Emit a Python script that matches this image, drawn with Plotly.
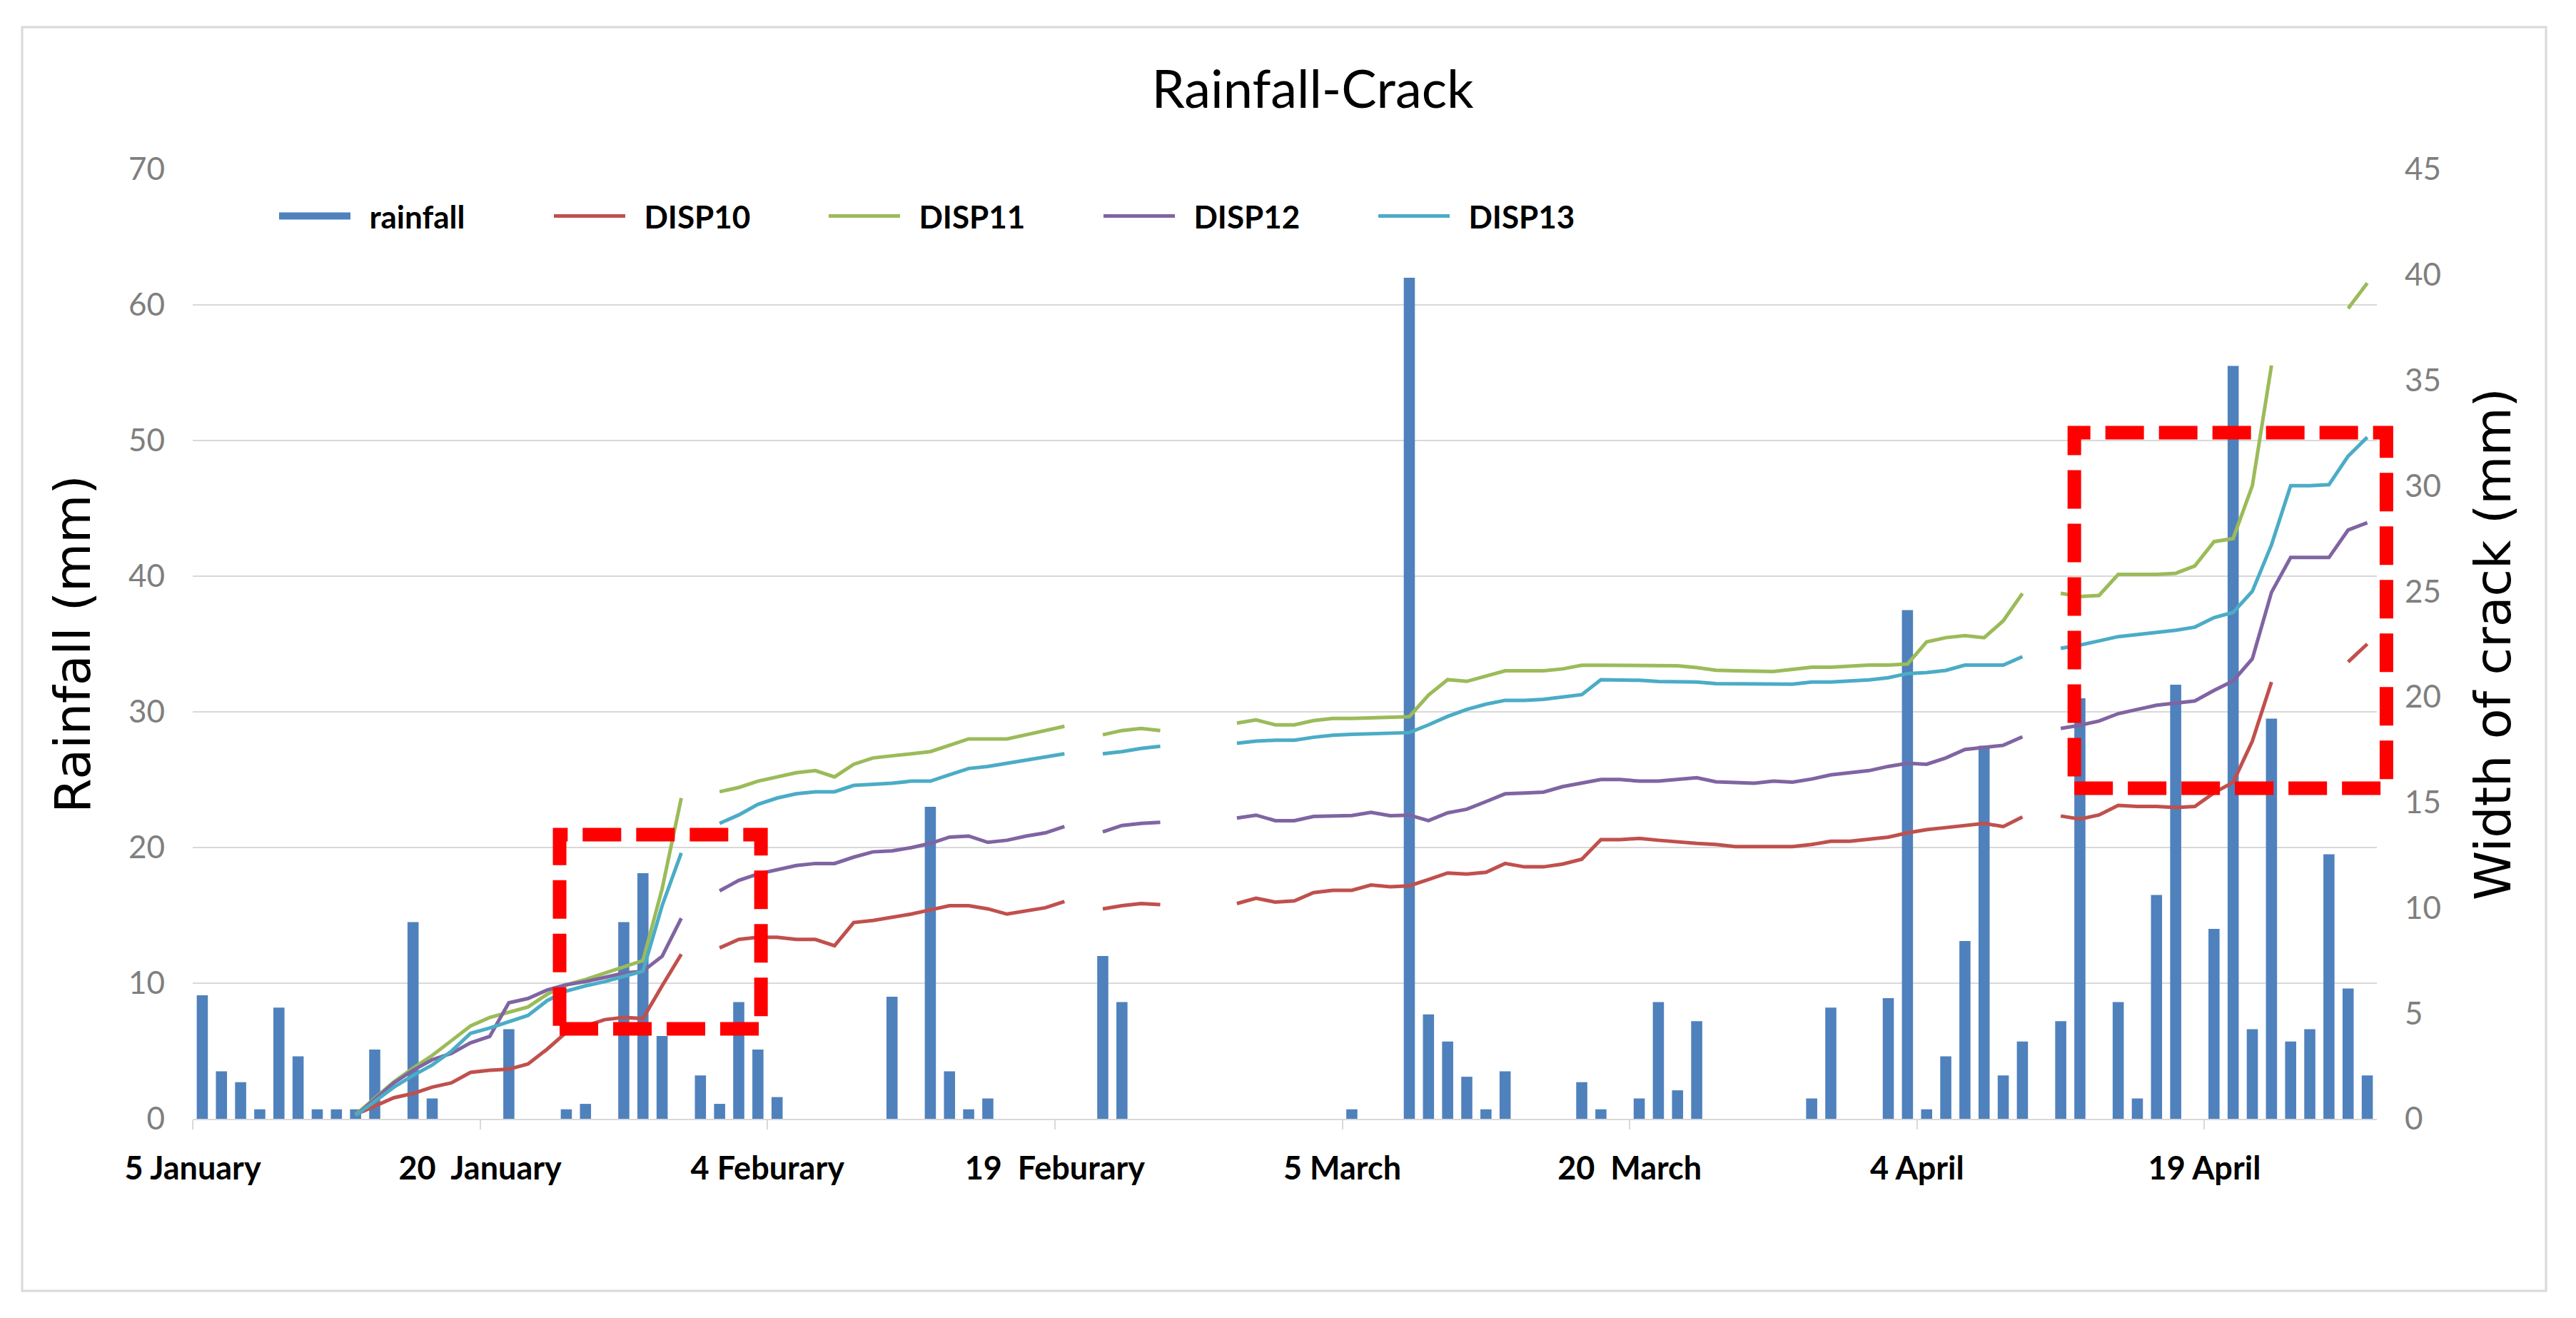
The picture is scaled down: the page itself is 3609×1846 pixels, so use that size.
import pandas as pd
import plotly.graph_objects as go

N = None

# ---------------- data ----------------
start_date = "2016-01-05"
n_days = 114
days = pd.date_range(start_date, periods=n_days, freq="D")

tick_dates = ["2016-01-05", "2016-01-20", "2016-02-04", "2016-02-19",
              "2016-03-05", "2016-03-20", "2016-04-04", "2016-04-19"]
tick_labels = ["5 January", "20\u00a0 January", "4 Feburary", "19\u00a0 Feburary",
               "5 March", "20\u00a0 March", "4 April", "19 April"]

rainfall = [
    9.1, 3.5, 2.7, 0.7, 8.2, 4.6, 0.7, 0.7, 0.7, 5.1,
    0, 14.5, 1.5, 0, 0, 0, 6.6, 0, 0, 0.7,
    1.1, 0, 14.5, 18.1, 6.1, 0, 3.2, 1.1, 8.6, 5.1,
    1.6, 0, 0, 0, 0, 0, 9.0, 0, 23.0, 3.5,
    0.7, 1.5, 0, 0, 0, 0, 0, 12.0, 8.6, 0,
    0, 0, 0, 0, 0, 0, 0, 0, 0, 0,
    0.7, 0, 0, 62.0, 7.7, 5.7, 3.1, 0.7, 3.5, 0,
    0, 0, 2.7, 0.7, 0, 1.5, 8.6, 2.1, 7.2, 0,
    0, 0, 0, 0, 1.5, 8.2, 0, 0, 8.9, 37.5,
    0.7, 4.6, 13.1, 27.5, 3.2, 5.7, 0, 7.2, 31.0, 0,
    8.6, 1.5, 16.5, 32.0, 0, 14.0, 55.5, 6.6, 29.5, 5.7,
    6.6, 19.5, 9.6, 3.2,
]

disp10 = [
    N, N, N, N, N, N, N, N, 0.2, 0.6,
    1.0, 1.2, 1.5, 1.7, 2.2, 2.3, 2.35, 2.6, 3.3, 4.1,
    4.4, 4.7, 4.8, 4.75, 6.3, 7.8, N, 8.1, 8.5, 8.6,
    8.6, 8.5, 8.5, 8.2, 9.3, 9.4, 9.55, 9.7, 9.9, 10.1,
    10.1, 9.95, 9.7, 9.85, 10.0, 10.3, N, 9.95, 10.1, 10.2,
    10.15, N, N, N, 10.2, 10.45, 10.27, 10.33, 10.72, 10.83,
    10.83, 11.08, 11.0, 11.04, 11.34, 11.65, 11.6, 11.68, 12.1, 11.94,
    11.94, 12.07, 12.3, 13.23, 13.23, 13.29, 13.2, 13.11, 13.05, 13.0,
    12.9, 12.9, 12.9, 12.9, 13.0, 13.15, 13.15, 13.25, 13.35, 13.55,
    13.7, 13.8, 13.9, 14.0, 13.85, 14.3, N, 14.35, 14.2, 14.4,
    14.85, 14.8, 14.8, 14.75, 14.8, 15.45, 15.95, 17.9, 20.7, N,
    N, N, 21.65, 22.5,
]

disp11 = [
    N, N, N, N, N, N, N, N, 0.2, 1.0,
    1.75, 2.4, 3.0, 3.7, 4.4, 4.8, 5.05, 5.3, 5.9, 6.35,
    6.6, 6.9, 7.2, 7.5, 10.9, 15.2, N, 15.5, 15.7, 16.0,
    16.2, 16.4, 16.5, 16.2, 16.8, 17.1, 17.2, 17.3, 17.4, 17.7,
    18.0, 18.0, 18.0, 18.2, 18.4, 18.6, N, 18.2, 18.4, 18.5,
    18.4, N, N, N, 18.75, 18.9, 18.67, 18.67, 18.87, 18.97,
    18.97, 19.0, 19.03, 19.06, 20.08, 20.81, 20.73, 20.98, 21.23, 21.23,
    21.23, 21.32, 21.49, 21.49, 21.49, 21.49, 21.49, 21.47, 21.38, 21.26,
    21.23, 21.2, 21.2, 21.3, 21.4, 21.4, 21.45, 21.5, 21.5, 21.55,
    22.6, 22.8, 22.9, 22.8, 23.6, 24.9, N, 24.9, 24.75, 24.8,
    25.8, 25.8, 25.8, 25.85, 26.2, 27.35, 27.5, 30.0, 35.7, N,
    N, N, 38.4, 39.6,
]

disp12 = [
    N, N, N, N, N, N, N, N, 0.15, 0.95,
    1.7, 2.3, 2.8, 3.1, 3.6, 3.9, 5.5, 5.7, 6.1, 6.35,
    6.5, 6.7, 6.9, 7.0, 7.7, 9.5, N, 10.8, 11.3, 11.6,
    11.8, 12.0, 12.1, 12.1, 12.4, 12.65, 12.7, 12.85, 13.05, 13.35,
    13.4, 13.1, 13.2, 13.4, 13.55, 13.85, N, 13.6, 13.9, 14.0,
    14.05, N, N, N, 14.25, 14.39, 14.13, 14.13, 14.33, 14.35,
    14.37, 14.52, 14.36, 14.39, 14.13, 14.5, 14.67, 15.03, 15.4, 15.44,
    15.48, 15.74, 15.91, 16.08, 16.08, 16.0, 16.0, 16.08, 16.16, 15.97,
    15.94, 15.9, 16.0, 15.95, 16.1, 16.3, 16.4, 16.5, 16.7, 16.85,
    16.8, 17.1, 17.5, 17.6, 17.7, 18.1, N, 18.5, 18.65, 18.85,
    19.2, 19.4, 19.6, 19.7, 19.8, 20.3, 20.75, 21.8, 24.95, 26.6,
    26.6, 26.6, 27.9, 28.25,
]

disp13 = [
    N, N, N, N, N, N, N, N, 0.15, 0.85,
    1.5, 2.05, 2.55, 3.2, 4.05, 4.3, 4.6, 4.9, 5.6, 6.05,
    6.3, 6.5, 6.75, 7.0, 10.1, 12.6, N, 14.0, 14.4, 14.9,
    15.2, 15.4, 15.5, 15.5, 15.8, 15.85, 15.9, 16.0, 16.0, 16.3,
    16.6, 16.7, 16.85, 17.0, 17.15, 17.3, N, 17.3, 17.4, 17.55,
    17.65, N, N, N, 17.8, 17.9, 17.94, 17.94, 18.08, 18.18,
    18.22, 18.25, 18.28, 18.3, 18.67, 19.07, 19.4, 19.65, 19.83, 19.83,
    19.88, 19.99, 20.1, 20.81, 20.81, 20.78, 20.72, 20.7, 20.7, 20.62,
    20.62, 20.6, 20.6, 20.6, 20.7, 20.7, 20.75, 20.8, 20.9, 21.1,
    21.15, 21.25, 21.5, 21.5, 21.5, 21.9, N, 22.3, 22.45, 22.65,
    22.85, 22.95, 23.05, 23.15, 23.3, 23.75, 24.0, 25.0, 27.2, 30.0,
    30.0, 30.05, 31.4, 32.3,
]

series_names = ["DISP10", "DISP11", "DISP12", "DISP13"]
series_values = [disp10, disp11, disp12, disp13]
series_colors = ["#C0504D", "#9BBB59", "#8064A2", "#4BACC6"]
rain_color = "#4F81BD"

# highlight boxes: (first day index, last day index, low mm, high mm) on rainfall axis
highlight_boxes = [(18.65, 29.16, 6.63, 20.95), (97.71, 114.0, 24.37, 50.58)]

# ---------------- layout constants ----------------
W, H = 3609, 1846
PL, PR, PT, PB = 270, 3330, 237, 1567          # plot area in px
RAIN_MAX, CRACK_MAX = 70, 45
GRID = "#D9D9D9"
half_day = pd.Timedelta(hours=12)
LEGEND_PAD = "\u00a0\u00a0"                    # gap between legend symbol and text

fig = go.Figure()
# legend stand-in for the rainfall bars (wide block symbol, same legend group)
fig.add_trace(go.Scatter(x=[None], y=[None], name=LEGEND_PAD + "rainfall", mode="lines",
                         line=dict(color=rain_color, width=30),
                         legendgroup="rain", yaxis="y"))
fig.add_trace(go.Bar(x=days, y=rainfall, name="rainfall",
                     marker=dict(color=rain_color, line=dict(width=0)),
                     legendgroup="rain", showlegend=False, yaxis="y"))
for name, vals, col in zip(series_names, series_values, series_colors):
    fig.add_trace(go.Scatter(x=days, y=vals, name=LEGEND_PAD + name, mode="lines",
                             line=dict(color=col, width=5),
                             connectgaps=False, yaxis="y2"))

pw, ph = PR - PL, PB - PT
def px_to_paper_x(px):
    return (px - PL) / pw
def px_to_paper_y(py):
    return (PB - py) / ph

shapes = []
for i0, i1, lo, hi in highlight_boxes:
    shapes.append(dict(type="rect", xref="paper", yref="paper",
                       x0=(i0 + 0.5) / n_days, x1=(i1 + 0.5) / n_days,
                       y0=lo / RAIN_MAX, y1=hi / RAIN_MAX,
                       line=dict(color="#FF0000", width=19, dash="54px,21px"),
                       fillcolor="rgba(0,0,0,0)", layer="above"))
# chart-area border
shapes.append(dict(type="rect", xref="paper", yref="paper",
                   x0=px_to_paper_x(31), x1=px_to_paper_x(3567),
                   y0=px_to_paper_y(1808), y1=px_to_paper_y(38),
                   line=dict(color=GRID, width=3), layer="below"))

fig.update_layout(
    width=W, height=H,
    margin=dict(l=PL, r=W - PR, t=PT, b=H - PB, pad=0),
    paper_bgcolor="white", plot_bgcolor="white",
    bargap=0.42,
    showlegend=True,
    hovermode=False,
    title=dict(text="Rainfall-Crack", x=1839 / W, xref="container", xanchor="center",
               y=1 - 125 / H, yref="container", yanchor="middle",
               font=dict(family="Lato", size=74, color="#000000")),
    legend=dict(orientation="h", x=px_to_paper_x(386), xanchor="left",
                y=px_to_paper_y(303), yanchor="middle",
                bgcolor="rgba(0,0,0,0)", itemwidth=100, entrywidth=270,
                font=dict(family="Lato", size=44, color="#000000", weight="bold"),
                traceorder="normal"),
    xaxis=dict(type="date",
               range=[days[0] - half_day, days[-1] + half_day],
               tickmode="array",
               tickvals=[pd.Timestamp(d) - half_day for d in tick_dates],
               ticktext=tick_labels,
               ticks="outside", ticklen=13, tickwidth=2, tickcolor=GRID,
               showline=True, linecolor=GRID, linewidth=2,
               showgrid=False, zeroline=False,
               ticklabelstandoff=16,
               tickfont=dict(family="Lato", size=45, color="#000000", weight="bold")),
    yaxis=dict(range=[0, RAIN_MAX], dtick=10, tick0=0,
               showgrid=True, gridcolor=GRID, gridwidth=2,
               zeroline=False, showline=False, ticks="",
               ticklabelstandoff=38,
               tickfont=dict(family="Lato", size=44, color="#7F7F7F"),
               title=dict(text="Rainfall (mm)", standoff=30,
                          font=dict(family="DejaVu Sans", size=70, color="#000000"))),
    yaxis2=dict(range=[0, CRACK_MAX], dtick=5, tick0=0, overlaying="y", side="right",
                showgrid=False, zeroline=False, showline=False, ticks="",
                ticklabelstandoff=38,
                tickfont=dict(family="Lato", size=44, color="#7F7F7F"),
                title=dict(text="Width of crack (mm)", standoff=48,
                           font=dict(family="DejaVu Sans", size=70, color="#000000"))),
    shapes=shapes,
)

fig.write_html("out.html",
               config={"displayModeBar": False},
               post_script="document.body.style.margin='0';document.body.style.overflow='hidden';")
